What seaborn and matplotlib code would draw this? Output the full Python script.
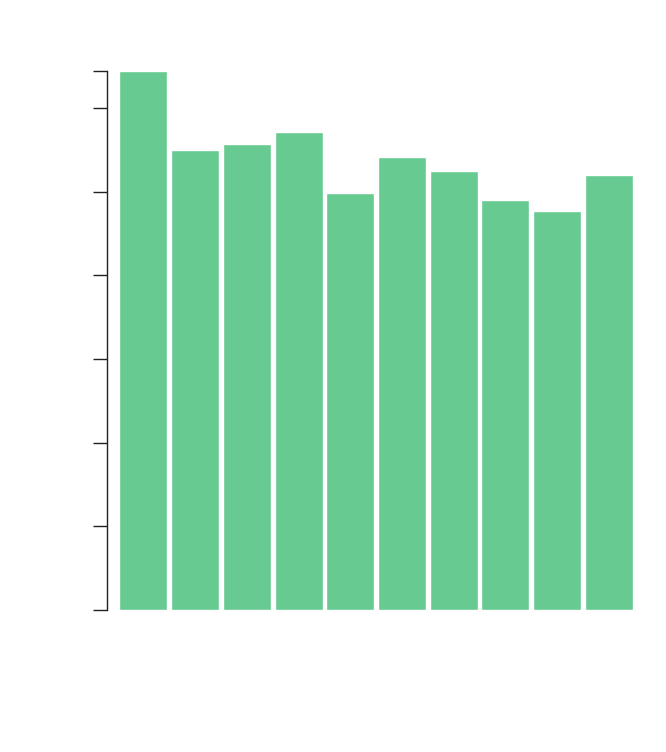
import matplotlib
matplotlib.use('Agg')
import matplotlib.pyplot as plt
import seaborn as sns

# values (no labels are shown in the reference)
categories = ['A', 'B', 'C', 'D', 'E', 'F', 'G', 'H', 'I', 'J']
values = [6.44, 5.50, 5.57, 5.71, 4.98, 5.41, 5.24, 4.90, 4.77, 5.20]
ytick_values = [0, 1, 2, 3, 4, 5, 6, 6.44]

sns.set_style('white')

fig = plt.figure(figsize=(6.66, 7.52), dpi=100)
ax = fig.add_axes([117.6 / 666, 1 - 610 / 752, 517 / 666, 539 / 752])

sns.barplot(x=categories, y=values, color='#66CA91', saturation=1,
            width=0.93, ax=ax)

ax.set_xlim(-0.5, len(categories) - 0.5)
ax.set_ylim(0, max(values))
ax.set_yticks(ytick_values)
ax.set_yticklabels([])
ax.set_xticks([])
ax.set_xlabel('')
ax.set_ylabel('')

sns.despine(ax=ax, bottom=True)
ax.spines['left'].set_position(('outward', 7.6))
ax.spines['left'].set_color('#222222')
ax.spines['left'].set_linewidth(1)
ax.tick_params(axis='y', left=True, length=10, width=1, color='#222222')

fig.savefig('out.png', dpi=100)
